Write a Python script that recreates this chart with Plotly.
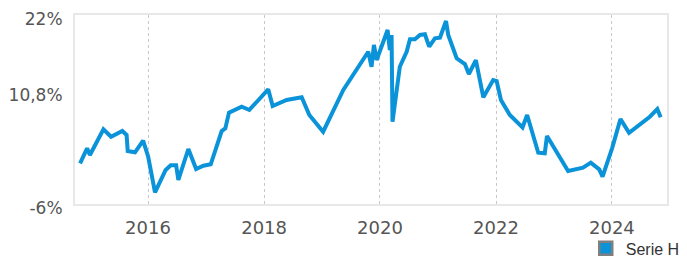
import plotly.graph_objects as go

dates = [
    "2014-10-30", "2014-12-13", "2014-12-31", "2015-03-26", "2015-05-13", "2015-07-23",
    "2015-08-19", "2015-08-26", "2015-10-11", "2015-12-01", "2016-01-02", "2016-02-03",
    "2016-02-14", "2016-04-21", "2016-05-23", "2016-06-26", "2016-07-10", "2016-09-11",
    "2016-10-30", "2016-12-15", "2017-01-30", "2017-04-09", "2017-05-02", "2017-05-25",
    "2017-08-13", "2017-09-30", "2018-01-27", "2018-02-24", "2018-05-23", "2018-08-26",
    "2018-10-13", "2019-01-08", "2019-05-15", "2019-10-19", "2019-11-09", "2019-11-24",
    "2019-12-11", "2020-02-18", "2020-03-03", "2020-03-14", "2020-03-20", "2020-05-05",
    "2020-06-17", "2020-07-08", "2020-08-08", "2020-09-09", "2020-10-10", "2020-11-06",
    "2020-12-12", "2021-01-13", "2021-02-20", "2021-03-06", "2021-04-28", "2021-06-19",
    "2021-07-14", "2021-08-27", "2021-10-13", "2021-12-14", "2022-01-05", "2022-02-01",
    "2022-03-29", "2022-06-17", "2022-07-16", "2022-09-24", "2022-11-04", "2022-11-18",
    "2023-03-31", "2023-07-03", "2023-08-21", "2023-10-13", "2023-11-03", "2024-01-02",
    "2024-02-24", "2024-04-18", "2024-08-27", "2024-10-13", "2024-11-03",
]
values = [
    0.03, 2.25, 1.26, 5.07, 3.97, 4.81,
    4.22, 1.85, 1.66, 3.38, 1.0, -3.44,
    -4.27, -0.96, -0.27, -0.27, -2.44, 2.15,
    -0.81, -0.33, -0.12, 4.81, 5.21, 7.53,
    8.41, 7.93, 10.99, 8.52, 9.41, 9.81,
    7.19, 4.71, 10.89, 16.56, 14.34, 17.56,
    15.33, 19.78, 16.81, 19.04, 6.19, 14.34,
    16.56, 18.4, 18.4, 19.04, 19.14, 17.3,
    18.55, 18.64, 21.11, 19.04, 15.59, 14.74,
    13.26, 15.33, 9.81, 12.37, 12.22, 9.41,
    7.19, 5.36, 7.19, 1.6, 1.51, 4.07,
    -1.11, -0.62, 0.12, -0.86, -1.96, 2.25,
    6.59, 4.56, 6.93, 8.07, 6.84,
]
series_name = "Serie H"
y_tickvals = [-6, 10.8, 22]
y_ticktext = ["-6%", "10,8%", "22%"]
x_tickvals = ["2016-01-01", "2018-01-01", "2020-01-01", "2022-01-01", "2024-01-01"]
x_ticktext = ["2016", "2018", "2020", "2022", "2024"]

blue = "#0a93d9"
fig = go.Figure()
fig.add_trace(go.Scatter(x=dates, y=values, mode="lines", showlegend=False,
                         line=dict(color=blue, width=4), hoverinfo="skip"))
fig.add_trace(go.Scatter(x=[None], y=[None], mode="markers", name=series_name,
                         marker=dict(symbol="square", size=13, color=blue,
                                     line=dict(color="#7f7f7f", width=2.5))))

fig.update_layout(
    width=687, height=263,
    margin=dict(l=75, r=20, t=15, b=59, autoexpand=False),
    paper_bgcolor="white", plot_bgcolor="white",
    font=dict(family="DejaVu Sans", color="#555555"),
    legend=dict(orientation="h", x=1.03, xanchor="right", y=-0.325, yanchor="bottom",
                font=dict(family="Liberation Sans", size=16, color="#333333"),
                bgcolor="rgba(0,0,0,0)", itemwidth=30),
    xaxis=dict(range=["2014-09-28", "2024-12-13"], tickvals=x_tickvals, ticktext=x_ticktext,
               showgrid=True, gridcolor="#c8c8c8", griddash="dot", gridwidth=1,
               showline=True, linecolor="#e8e8e8", linewidth=2, mirror=True,
               zeroline=False, ticks="", tickfont=dict(size=18, color="#555555"),
               ticklabelstandoff=6, automargin=False),
    yaxis=dict(range=[-6, 22], tickvals=y_tickvals, ticktext=y_ticktext,
               showgrid=False, zeroline=False,
               showline=True, linecolor="#e8e8e8", linewidth=2, mirror=True,
               ticks="", tickfont=dict(size=17, color="#555555"),
               ticklabelstandoff=7, ticklabelshift=4, automargin=False),
)
fig.write_html("out.html", config={"displayModeBar": False},
               post_script="document.body.style.margin='0';")
